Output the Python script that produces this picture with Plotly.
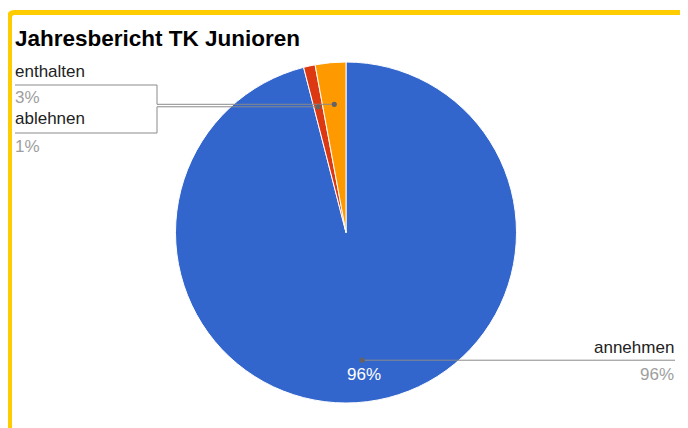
import math
import plotly.graph_objects as go

# ---- data ----
labels = ["annehmen", "ablehnen", "enthalten"]
values = [96.0, 1.1, 2.9]
colors = ["#3366cc", "#dc3912", "#ff9900"]
title_text = "Jahresbericht TK Junioren"

# page has an 8px body margin, so the figure is placed at (8, 8)
OFF = 8
W, H = 688 - OFF, 428 - OFF
FONT = "Liberation Sans, Arial, sans-serif"


def px(x):
    return (x - OFF) / W


def py(y):
    return 1 - (y - OFF) / H


# pie geometry (reference pixels)
CX, CY, R = 346, 232.5, 170.5

fig = go.Figure(go.Pie(
    labels=labels, values=values, sort=False, direction="clockwise", rotation=0,
    marker=dict(colors=colors, line=dict(color="white", width=1)),
    textinfo="none", showlegend=False, hoverinfo="label+percent",
    domain=dict(x=[px(CX - R), px(CX + R)], y=[py(CY + R), py(CY - R)]),
))

total = sum(values)
pcts = [f"{round(v / total * 100)}%" for v in values]

# dot positions at slice mid-angles
dots = []
acc = 0
for v in values:
    mid = (acc + v / 2) / total * 2 * math.pi
    acc += v
    r = 0.755 * R
    dots.append((CX + r * math.sin(mid), CY - r * math.cos(mid)))

shapes = []
annotations = []
LINE = dict(color="#8a8a8a", width=1)


def seg(pts):
    path = "M " + " L ".join(f"{px(x)},{py(y)}" for x, y in pts)
    shapes.append(dict(type="path", xref="paper", yref="paper", path=path, line=LINE))


def dot(x, y, rr=2.6):
    shapes.append(dict(type="circle", xref="paper", yref="paper",
                       x0=px(x - rr), x1=px(x + rr), y0=py(y + rr), y1=py(y - rr),
                       fillcolor="#636363", line=dict(width=0)))


def label(text, x, y, color, anchor="left", size=17):
    annotations.append(dict(text=text, x=px(x), y=py(y), xref="paper", yref="paper",
                            xanchor=anchor, yanchor="middle", showarrow=False,
                            font=dict(family=FONT, size=size, color=color)))


# annehmen (index 0)
ax, ay = dots[0]
seg([(ax, ay), (675, ay)])
dot(ax, ay)
label(labels[0], 676, 347.5, "#222222", "right")
label(pcts[0], 676, 374, "#9e9e9e", "right")
label(pcts[0], 345, 374, "#ffffff", "left")

# enthalten (index 2)
ex, ey = dots[2]
seg([(15, 85), (157, 85), (157, ey), (ex, ey)])
dot(ex, ey)
label(labels[2], 13, 71, "#222222")
label(pcts[2], 13, 97.5, "#9e9e9e")

# ablehnen (index 1)
bx, by = dots[1]
seg([(15, 133), (157, 133), (157, by), (bx, by)])
dot(bx, by)
label(labels[1], 13, 119, "#222222")
label(pcts[1], 13, 146.5, "#9e9e9e")

# title
annotations.append(dict(text=f"<b>{title_text}</b>", x=px(13), y=py(39), xref="paper", yref="paper",
                        xanchor="left", yanchor="middle", showarrow=False,
                        font=dict(family=FONT, size=22.5, color="#000000")))

# yellow frame with rounded top-left corner
fx0, fy0, rc = 9.5, 12.5, 5
frame = (f"M {px(fx0)},{py(440)} L {px(fx0)},{py(fy0 + rc)} "
         f"Q {px(fx0)},{py(fy0)} {px(fx0 + rc)},{py(fy0)} L {px(700)},{py(fy0)}")
shapes.append(dict(type="path", xref="paper", yref="paper", path=frame,
                   line=dict(color="#ffcc00", width=5)))

fig.update_layout(
    width=W, height=H, margin=dict(l=0, r=0, t=0, b=0),
    paper_bgcolor="white", plot_bgcolor="white",
    shapes=shapes, annotations=annotations,
)
fig.write_html("out.html")
